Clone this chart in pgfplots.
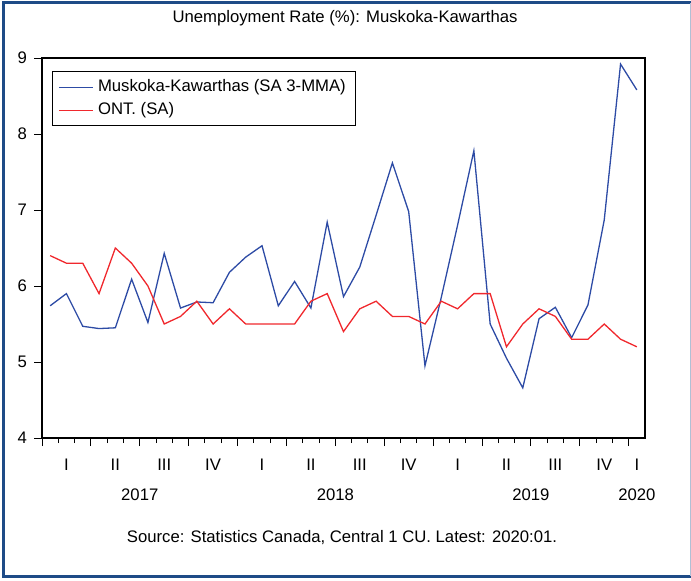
\documentclass[border=0pt]{standalone}
\usepackage{fontspec}
\setmainfont{Liberation Sans}
\usepackage{pgfplots}
\pgfplotsset{compat=1.18}
\definecolor{mkblue}{RGB}{45,75,165}
\definecolor{ontred}{RGB}{240,40,45}
\definecolor{framebl}{RGB}{30,75,135}
\newcommand{\chartfont}{\fontsize{8.35}{10}\selectfont}
\begin{document}
\begin{tikzpicture}
\useasboundingbox (0pt,0pt) rectangle (345.5pt,290pt);
% outer frame
\draw[framebl, line width=1.5pt] (345.5pt,288.6pt) -- (1.9pt,288.6pt) -- (1.9pt,1.9pt) -- (345.5pt,1.9pt);
\draw[framebl!35, line width=0.6pt] (345.1pt,288.6pt) -- (345.1pt,1.9pt);
\node[font=\chartfont] at (172.5pt,281pt) {Unemployment Rate (\%): Muskoka-Kawarthas};
\node[font=\chartfont] at (171pt,21pt) {Source: Statistics Canada, Central 1 CU. Latest: 2020:01.};
\begin{axis}[
at={(21pt,71pt)}, anchor=south west,
width=301.5pt, height=190pt, scale only axis,
clip=false,
xmin=-0.5, xmax=36.5,
ymin=4, ymax=9,
ytick={4,5,6,7,8,9},
xtick={-0.5,2.5,...,35.5},
xticklabels={},
minor x tick num=2,
tick align=outside,
major tick length=4pt,
minor tick length=2.5pt,
xtick pos=bottom, ytick pos=left,
extra x ticks={1,4,7,10,13,16,19,22,25,28,31,34,36},
extra x tick labels={I,II,III,IV,I,II,III,IV,I,II,III,IV,I},
extra x tick style={major tick length=0pt, tick label style={anchor=center, yshift=-13.5pt}},
tick label style={font=\chartfont},
/pgf/number format/assume math mode=true,
axis line style={black, line width=0.7pt},
every tick/.style={black, line width=0.5pt},
legend style={at={(0,1)}, anchor=north west, xshift=5pt, yshift=-6.5pt,
  font=\chartfont, draw=black, line width=0.6pt, cells={anchor=west}, row sep=0pt},
legend cell align=left,
]
\addplot[mkblue, line width=0.65pt] coordinates {
(0,5.74) (1,5.90) (2,5.47) (3,5.44) (4,5.45) (5,6.09) (6,5.52) (7,6.43)
(8,5.71) (9,5.79) (10,5.78) (11,6.18) (12,6.38) (13,6.53) (14,5.74) (15,6.06)
(16,5.71) (17,6.84) (18,5.86) (19,6.25) (20,6.93) (21,7.62) (22,6.98) (23,4.95)
(24,5.85) (25,6.80) (26,7.78) (27,5.50) (28,5.05) (29,4.66) (30,5.57) (31,5.72)
(32,5.32) (33,5.75) (34,6.87) (35,8.92) (36,8.58)
};
\addplot[ontred, line width=0.65pt] coordinates {
(0,6.4) (1,6.3) (2,6.3) (3,5.9) (4,6.5) (5,6.3) (6,6.0) (7,5.5)
(8,5.6) (9,5.8) (10,5.5) (11,5.7) (12,5.5) (13,5.5) (14,5.5) (15,5.5)
(16,5.8) (17,5.9) (18,5.4) (19,5.7) (20,5.8) (21,5.6) (22,5.6) (23,5.5)
(24,5.8) (25,5.7) (26,5.9) (27,5.9) (28,5.2) (29,5.5) (30,5.7) (31,5.6)
(32,5.3) (33,5.3) (34,5.5) (35,5.3) (36,5.2)
};
\legend{Muskoka-Kawarthas (SA 3-MMA), ONT. (SA)}
\node[font=\chartfont] at (axis cs:5.5,4) [yshift=-28.5pt] {2017};
\node[font=\chartfont] at (axis cs:17.5,4) [yshift=-28.5pt] {2018};
\node[font=\chartfont] at (axis cs:29.5,4) [yshift=-28.5pt] {2019};
\node[font=\chartfont] at (axis cs:36,4) [yshift=-28.5pt] {2020};
\end{axis}
\end{tikzpicture}
\end{document}
